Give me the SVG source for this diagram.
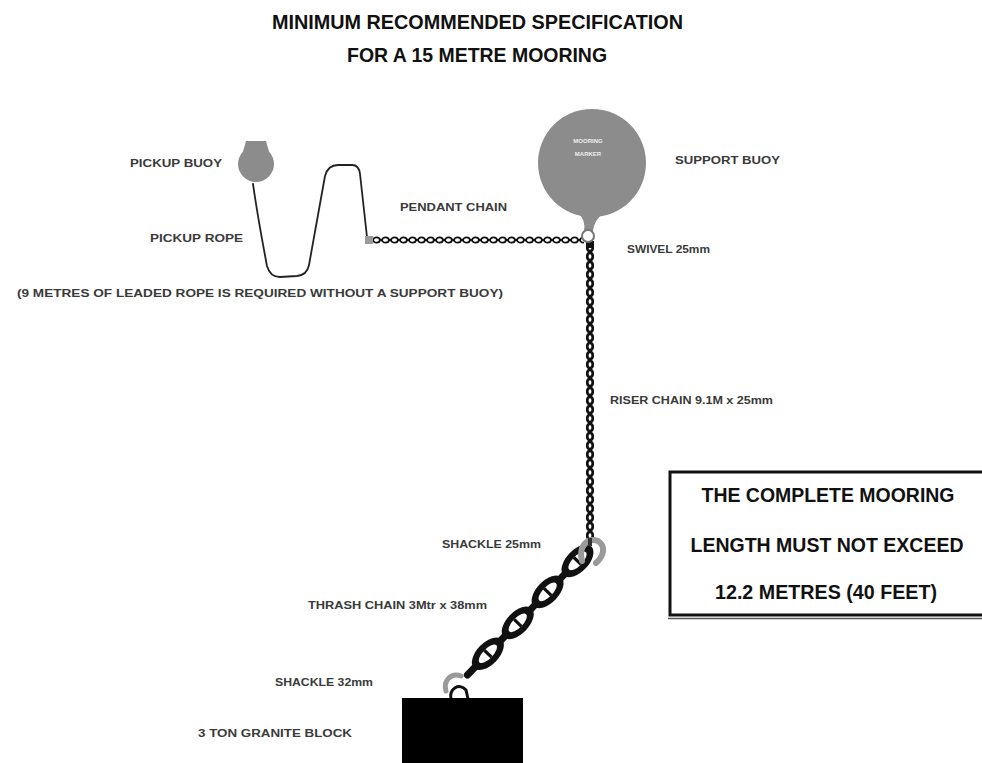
<svg xmlns="http://www.w3.org/2000/svg" width="982" height="763" viewBox="0 0 982 763">
  <style>
    .title { font-family: "Liberation Sans", Arial, sans-serif; font-weight: bold; font-size: 20px; fill: #111; }
    .lbl { font-family: "Liberation Sans", Arial, sans-serif; font-weight: bold; font-size: 11px; fill: #3a3a3a; }
    .note { font-family: "Liberation Sans", Arial, sans-serif; font-weight: bold; font-size: 19.5px; fill: #111; text-anchor: middle; }
    .buoy { fill: #8c8c8c; }
    .rope { fill: none; stroke: #222; stroke-width: 1.8; stroke-linecap: round; stroke-linejoin: round; }
    .shackle { fill: none; stroke: #9a9a9a; stroke-linecap: round; }
  </style>
  <defs>
    <!-- small links for the pendant chain (horizontal) -->
    <pattern id="linkH" patternUnits="userSpaceOnUse" x="372" y="236" width="9" height="8">
      <line x1="0" y1="4" x2="9" y2="4" stroke="#111" stroke-width="2"/>
      <ellipse cx="4.5" cy="4" rx="3.4" ry="2.7" fill="#fff" stroke="#111" stroke-width="1.8"/>
    </pattern>
    <!-- small links for the riser chain (vertical) -->
    <pattern id="linkV" patternUnits="userSpaceOnUse" x="586" y="243" width="8" height="9">
      <line x1="4" y1="0" x2="4" y2="9" stroke="#111" stroke-width="3"/>
      <ellipse cx="4" cy="4.5" rx="2.8" ry="3.7" fill="#fff" stroke="#111" stroke-width="2.8"/>
    </pattern>
    <!-- one stud link of the heavy ground chain -->
    <g id="studLink">
      <ellipse cx="0" cy="0" rx="20" ry="11" fill="#111"/>
      <ellipse cx="0" cy="0" rx="12" ry="5" fill="#fff"/>
      <rect x="-1.6" y="-5" width="3.2" height="10" fill="#111"/>
    </g>
    <rect id="edgeLink" x="-12" y="-3.5" width="24" height="7" rx="3.5" fill="#111"/>
  </defs>

  <rect width="982" height="763" fill="#fff"/>

  <!-- heading -->
  <g id="heading">
    <text class="title" x="272" y="29" textLength="411" lengthAdjust="spacingAndGlyphs">MINIMUM RECOMMENDED SPECIFICATION</text>
    <text class="title" x="347" y="62" textLength="260" lengthAdjust="spacingAndGlyphs">FOR A 15 METRE MOORING</text>
  </g>

  <!-- rope and chains -->
  <g id="connectors">
    <path id="pickup-rope" class="rope" d="M253,184 C256,205 263,245 267,266 Q270,277 280,277 L297,276 Q307,275 309,265 L325,176 Q328,165 338,165 L352,165 Q359,165 360,174 L367,237"/>
    <rect id="pendant-chain" x="372" y="236" width="212" height="8" fill="url(#linkH)"/>
    <rect x="365" y="236" width="8" height="8" fill="#9a9a9a"/>
    <rect id="riser-chain" x="586" y="243" width="8" height="297" fill="url(#linkV)"/>
    <rect x="586" y="241" width="8" height="7" fill="#111"/>
    <g id="thrash-chain" transform="translate(590,548) rotate(134)">
      <use href="#edgeLink" x="39" y="0"/>
      <use href="#edgeLink" x="82" y="0"/>
      <use href="#edgeLink" x="126" y="0"/>
      <use href="#edgeLink" x="168" y="0"/>
      <use href="#studLink" x="18" y="0"/>
      <use href="#studLink" x="61" y="0"/>
      <use href="#studLink" x="104" y="0"/>
      <use href="#studLink" x="147" y="0"/>
    </g>
  </g>

  <!-- pickup buoy: flat top, round body -->
  <g id="pickup-buoy">
    <path class="buoy" d="M246,141 L266,141 L269,151.6 A18,18 0 1 1 243,151.6 Z"/>
    <text class="lbl" x="130" y="167" textLength="92" lengthAdjust="spacingAndGlyphs">PICKUP BUOY</text>
  </g>

  <g id="pickup-rope-label">
    <text class="lbl" x="150" y="242" textLength="93" lengthAdjust="spacingAndGlyphs">PICKUP ROPE</text>
  </g>

  <g id="pendant-chain-label">
    <text class="lbl" x="400" y="211" textLength="107" lengthAdjust="spacingAndGlyphs">PENDANT CHAIN</text>
  </g>

  <!-- support buoy with marker -->
  <g id="support-buoy">
    <circle class="buoy" cx="592" cy="163" r="54"/>
    <path class="buoy" d="M578,213 Q586,220 584,231 L593,231 Q594,220 604,213 Z"/>
    <text x="588" y="143" font-family="Liberation Sans, Arial, sans-serif" font-size="6" font-weight="bold" fill="#eee" text-anchor="middle">MOORING</text>
    <text x="588" y="156" font-family="Liberation Sans, Arial, sans-serif" font-size="6" font-weight="bold" fill="#eee" text-anchor="middle">MARKER</text>
    <text class="lbl" x="675" y="164" textLength="105" lengthAdjust="spacingAndGlyphs">SUPPORT BUOY</text>
  </g>

  <g id="swivel">
    <circle cx="588" cy="236" r="6" fill="#fff" stroke="#777" stroke-width="2"/>
    <text class="lbl" x="627" y="253" textLength="83" lengthAdjust="spacingAndGlyphs">SWIVEL 25mm</text>
  </g>

  <g id="rope-note">
    <text class="lbl" x="17" y="297" textLength="486" lengthAdjust="spacingAndGlyphs">(9 METRES OF LEADED ROPE IS REQUIRED WITHOUT A SUPPORT BUOY)</text>
  </g>

  <g id="riser-label">
    <text class="lbl" x="610" y="404" textLength="163" lengthAdjust="spacingAndGlyphs">RISER CHAIN 9.1M x 25mm</text>
  </g>

  <g id="shackle-25">
    <path class="shackle" stroke-width="6" d="M582,561 C578,546 588,537 598,541 C606,546 604,556 596,563"/>
    <rect x="588" y="538" width="4" height="8" fill="#333"/>
    <text class="lbl" x="442" y="548" textLength="99" lengthAdjust="spacingAndGlyphs">SHACKLE 25mm</text>
  </g>

  <g id="thrash-label">
    <text class="lbl" x="308" y="609" textLength="179" lengthAdjust="spacingAndGlyphs">THRASH CHAIN 3Mtr x 38mm</text>
  </g>

  <g id="shackle-32">
    <path class="shackle" stroke-width="5" d="M446,691 C443,681 451,672 461,676"/>
    <path fill="none" stroke="#111" stroke-width="3" d="M451,699 C449,689 459,682 466,690 L468,699"/>
    <text class="lbl" x="275" y="686" textLength="98" lengthAdjust="spacingAndGlyphs">SHACKLE 32mm</text>
  </g>

  <g id="granite-block">
    <rect x="402" y="698" width="121" height="65" fill="#000"/>
    <text class="lbl" x="198" y="737" textLength="154" lengthAdjust="spacingAndGlyphs">3 TON GRANITE BLOCK</text>
  </g>

  <!-- length limit notice -->
  <g id="length-notice">
    <rect x="670" y="472" width="330" height="143" fill="#fff" stroke="#111" stroke-width="3"/>
    <line x1="668" y1="618.5" x2="982" y2="618.5" stroke="#555" stroke-width="1.5"/>
    <text class="note" x="828" y="502" textLength="253" lengthAdjust="spacingAndGlyphs">THE COMPLETE MOORING</text>
    <text class="note" x="827" y="552" textLength="273" lengthAdjust="spacingAndGlyphs">LENGTH MUST NOT EXCEED</text>
    <text class="note" x="826" y="599" textLength="222" lengthAdjust="spacingAndGlyphs">12.2 METRES (40 FEET)</text>
  </g>
</svg>
